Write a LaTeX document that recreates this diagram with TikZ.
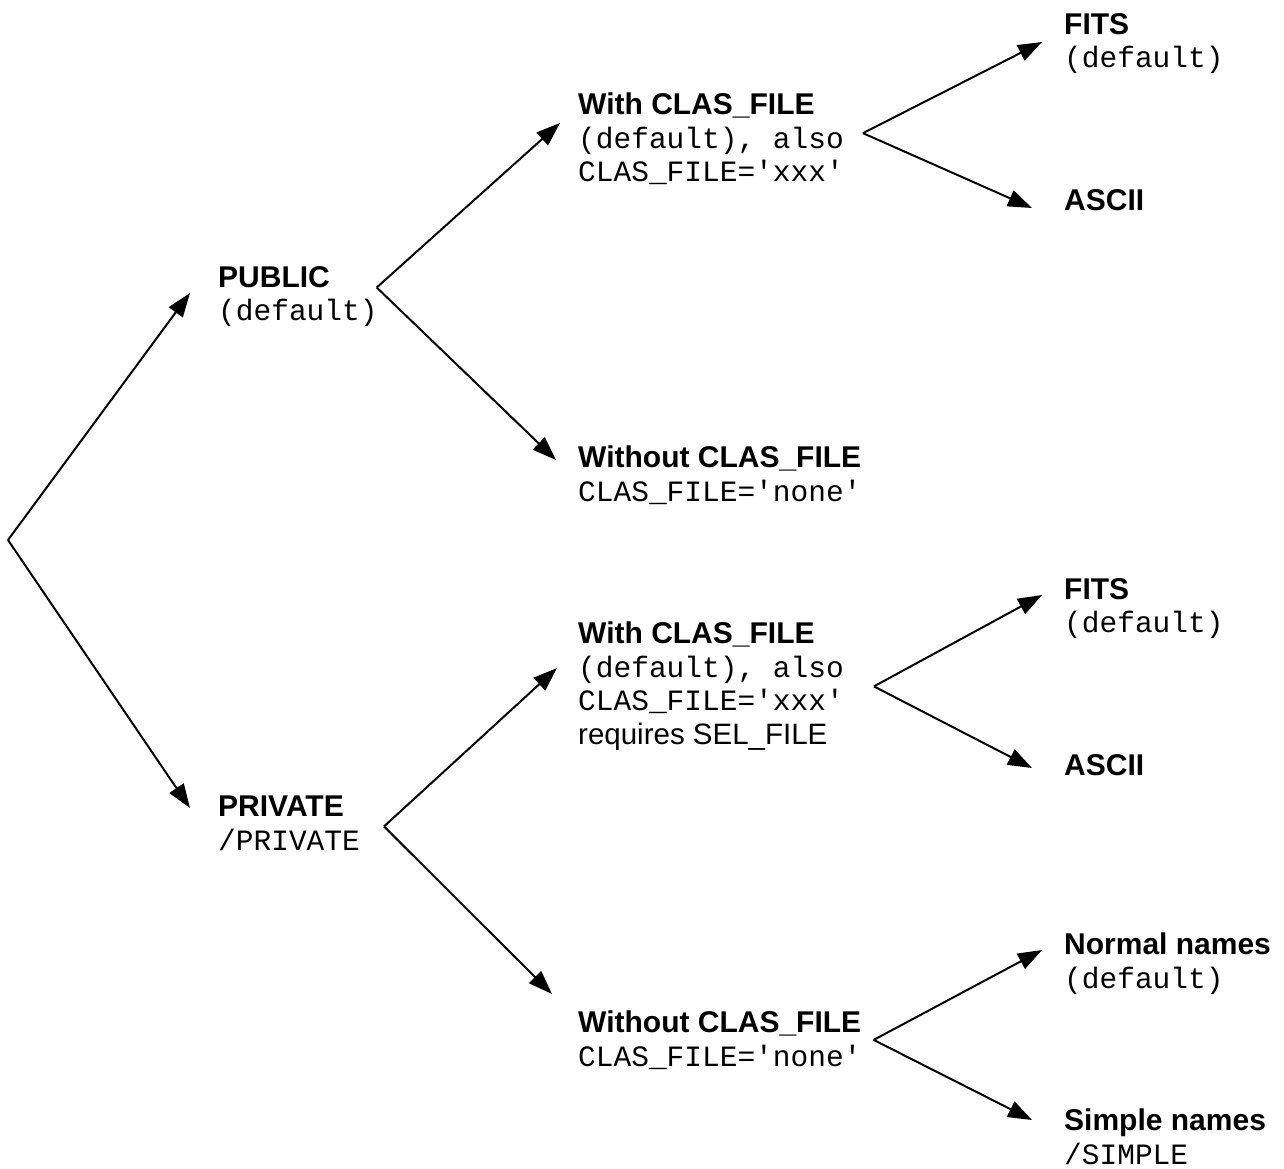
\documentclass[tikz,border=0pt]{standalone}
\usepackage{fontspec}
\setmainfont{Liberation Sans}
\setmonofont{Liberation Mono}
\usetikzlibrary{arrows.meta}
\newcommand{\hd}[1]{{\fontsize{30}{33.5}\selectfont\bfseries #1}}
\newcommand{\cd}[1]{\texttt{#1}}

\begin{document}
\begin{tikzpicture}[x=1pt,y=-1pt]
\tikzstyle{every node}+=[inner sep=0pt,anchor=north west,align=left,font=\fontsize{29.5}{33.5}\selectfont]
\tikzstyle{arr}=[line width=2pt,-{Triangle[length=24pt,width=17pt]}]
\useasboundingbox (0,0) rectangle (1284,1168);
% first level
\node (pub) at (218,266) {\hd{PUBLIC}\\\cd{(default)}};
\node (priv) at (218,796) {\hd{PRIVATE}\\\cd{/PRIVATE}};
% second level
\node (with1) at (578,93) {\hd{With CLAS\_FILE}\\\cd{(default), also}\\\cd{CLAS\_FILE='xxx'}};
\node (wout1) at (578,446) {\hd{Without CLAS\_FILE}\\\cd{CLAS\_FILE='none'}};
\node (with2) at (578,622) {\hd{With CLAS\_FILE}\\\cd{(default), also}\\\cd{CLAS\_FILE='xxx'}\\requires SEL\_FILE};
\node (wout2) at (578,1011) {\hd{Without CLAS\_FILE}\\\cd{CLAS\_FILE='none'}};
% third level
\node (fits1) at (1064,13) {\hd{FITS}\\\cd{(default)}};
\node (ascii1) at (1064,189) {\hd{ASCII}};
\node (fits2) at (1064,578) {\hd{FITS}\\\cd{(default)}};
\node (ascii2) at (1064,754) {\hd{ASCII}};
\node (normal) at (1064,933) {\hd{Normal names}\\\cd{(default)}};
\node (simple) at (1064,1109) {\hd{Simple names}\\\cd{/SIMPLE}};
% forks
\coordinate (root) at (8,540);
\coordinate (pubfork) at ([shift={(-1,-9)}]pub.east);
\coordinate (privfork) at ([shift={(24,3)}]priv.east);
\coordinate (with1fork) at ([shift={(19,-6)}]with1.east);
\coordinate (with2fork) at ([shift={(30,0)}]with2.east);
\coordinate (wout2fork) at ([shift={(12,-0.5)}]wout2.east);
% connectors
\draw [arr] (root) -- ([shift={(-28,27)}]pub.north west);
\draw [arr] (root) -- ([shift={(-28,12)}]priv.north west);
\draw [arr] (pubfork) -- ([shift={(-18,30)}]with1.north west);
\draw [arr] (pubfork) -- ([shift={(-22,14)}]wout1.north west);
\draw [arr] (privfork) -- ([shift={(-21,46)}]with2.north west);
\draw [arr] (privfork) -- ([shift={(-26,-17)}]wout2.north west);
\draw [arr] (with1fork) -- ([shift={(-22,29)}]fits1.north west);
\draw [arr] (with1fork) -- ([shift={(-32,19)}]ascii1.north west);
\draw [arr] (with2fork) -- ([shift={(-22,17)}]fits2.north west);
\draw [arr] (with2fork) -- ([shift={(-32,14)}]ascii2.north west);
\draw [arr] (wout2fork) -- ([shift={(-22,17)}]normal.north west);
\draw [arr] (wout2fork) -- ([shift={(-32,11)}]simple.north west);
\end{tikzpicture}
\end{document}
